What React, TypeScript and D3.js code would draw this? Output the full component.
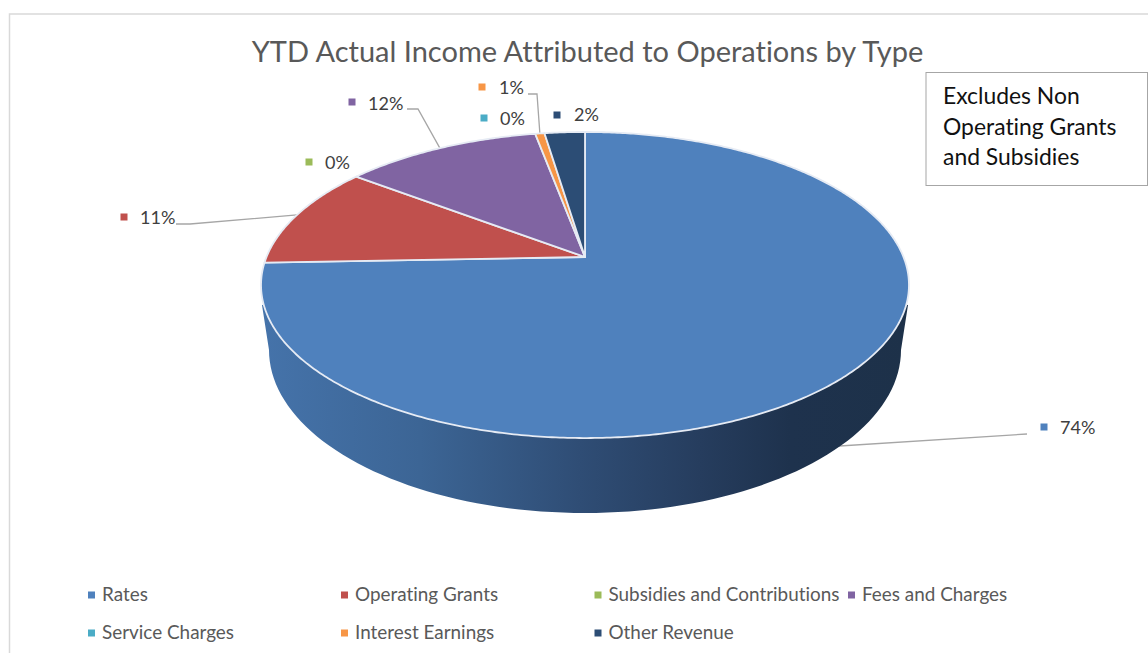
import React from "react";
import * as d3 from "d3";

// Income by type, in percent of the year-to-date total.
const categories = ["Rates", "Operating Grants", "Subsidies and Contributions", "Fees and Charges", "Service Charges", "Interest Earnings", "Other Revenue"];
const shares = [74.4, 10.9, 0, 11.75, 0, 0.55, 2.4];
const sliceColors = ["#4f81bd", "#c0504d", "#9bbb59", "#8064a2", "#4bacc6", "#f79646", "#2c4d75"];

const titleText = "YTD Actual Income Attributed to Operations by Type";
const noteLines = ["Excludes Non", "Operating Grants", "and Subsidies"];

const W = 1148;
const H = 653;
const FONT = "Lato, 'Open Sans', sans-serif";

// Perspective of the tilted disc: wedge apex, horizontal and vertical reach, foreshortening.
const APEX = { x: 585, y: 257 };
const REACH_X = 318.5;
const REACH_Y = 147.9;
const TILT = -0.183;
const DEPTH = 75;

// Base rim of the disc, a plain ellipse seen below the top face.
const BASE = { x: 585, y: 350, rx: 316, ry: 163 };

const project = (angle: number, depth = 0): [number, number] => {
  const u = Math.sin(angle);
  const v = -Math.cos(angle);
  const w = 1 + TILT * v;
  return [APEX.x + (REACH_X * u) / w, APEX.y + (REACH_Y * v) / w + depth];
};

const pie = d3.pie<number>().sort(null).value((d) => d);
const arcs = pie(shares);
const pct = d3.format(".0%");
const line = d3.line();

const wedgePath = (start: number, end: number) => {
  const steps = Math.max(2, Math.ceil((end - start) / 0.01));
  const rim = d3.range(steps + 1).map((i) => project(start + ((end - start) * i) / steps));
  return line([[APEX.x, APEX.y], ...rim]) + "Z";
};

// Side wall: the lower half of the base rim, joined up to the top rim at either side.
const wallPath = () => {
  const lower = d3.range(0, 181, 2).map((deg): [number, number] => {
    const t = (deg * Math.PI) / 180;
    return [BASE.x + BASE.rx * Math.cos(t), BASE.y + BASE.ry * Math.sin(t)];
  });
  return line([[908, 305], ...lower, [262, 305], [APEX.x, APEX.y]]) + "Z";
};

// Where each visible label sits, and the elbow of its leader when it has one.
const labelSpots = [
  { i: 0, mx: 1044, my: 427, tx: 1060, ty: 434, elbow: [1027, 434], drop: DEPTH - 3, inset: 16 },
  { i: 1, mx: 124, my: 217, tx: 140, ty: 224, elbow: [190, 224], start: [176, 224], drop: 0 },
  { i: 2, mx: 309, my: 162, tx: 325, ty: 169 },
  { i: 3, mx: 352, my: 102, tx: 368, ty: 110, elbow: [418, 109], start: [407, 109], drop: 0 },
  { i: 4, mx: 484, my: 118, tx: 500, ty: 125 },
  { i: 5, mx: 482, my: 87, tx: 499, ty: 94, elbow: [537, 94], start: [528, 94], drop: 0 },
  { i: 6, mx: 557, my: 115, tx: 574, ty: 121 },
];

const legendColumns = [88, 341, 594.5, 848];
const legendRows = [595, 633];
const legendSlots = [[0, 0], [1, 0], [2, 0], [3, 0], [0, 1], [1, 1], [2, 1]];

export default function App() {
  const x = d3.scaleLinear().domain([262, 908]).range([0, 1]);
  const wallStops: [number, string][] = [
    [262, "#4573aa"],
    [420, "#3c6595"],
    [580, "#2f4d75"],
    [700, "#263d5e"],
    [790, "#1e324d"],
    [908, "#1d3149"],
  ];
  return (
    <svg width={W} height={H} style={{ position: "fixed", left: 0, top: 0, fontVariantLigatures: "none" }} fontFamily={FONT}>
      <defs>
        <linearGradient id="wall" x1="0" x2="1" y1="0" y2="0">
          {wallStops.map(([px, c]) => (
            <stop key={px} offset={x(px)} stopColor={c} />
          ))}
        </linearGradient>
      </defs>
      <rect width={W} height={H} fill="#fff" />
      <path d={`M9.5 ${H}V14H${W}`} fill="none" stroke="#d9d9d9" strokeWidth={1.5} />

      <text x={587.5} y={62} textAnchor="middle" fontSize={29} fill="#595959">{titleText}</text>

      {/* Leaders go under the disc so each stops at the slice's visible edge. */}
      {labelSpots.map((s) => {
        if (!s.elbow) return null;
        const a = arcs[s.i];
        const [ex, ey] = project((a.startAngle + a.endAngle) / 2, s.drop);
        const pts = [...(s.start ? [s.start] : []), s.elbow, [ex - (s.inset ?? 0), ey]] as [number, number][];
        return <path key={s.i} d={line(pts)!} fill="none" stroke="#a6a6a6" strokeWidth={1.3} />;
      })}

      <path d={wallPath()} fill="url(#wall)" />
      {arcs.filter((a) => a.value > 0).map((a) => (
        <path key={a.index} d={wedgePath(a.startAngle, a.endAngle)} fill={sliceColors[a.index]} stroke="#e6ebf4" strokeWidth={1.8} strokeLinejoin="round" />
      ))}

      {labelSpots.map((s) => (
        <g key={s.i}>
          <rect x={s.mx - 3.5} y={s.my - 3.5} width={7} height={7} fill={sliceColors[s.i]} />
          <text x={s.tx} y={s.ty} fontSize={18} fill="#404040">{pct(arcs[s.i].value / 100)}</text>
        </g>
      ))}

      <rect x={926} y={72.5} width={221.5} height={113} fill="#fff" stroke="#a6a6a6" strokeWidth={1} />
      {noteLines.map((t, i) => (
        <text key={t} x={943} y={104 + i * 30.5} fontSize={22.9} fill="#111">{t}</text>
      ))}

      {categories.map((c, i) => {
        const [col, row] = legendSlots[i];
        return (
          <g key={c}>
            <rect x={legendColumns[col]} y={legendRows[row] - 3.5} width={7} height={7} fill={sliceColors[i]} />
            <text x={legendColumns[col] + 14} y={legendRows[row] + 6} fontSize={18.9} fill="#595959">{c}</text>
          </g>
        );
      })}
    </svg>
  );
}
